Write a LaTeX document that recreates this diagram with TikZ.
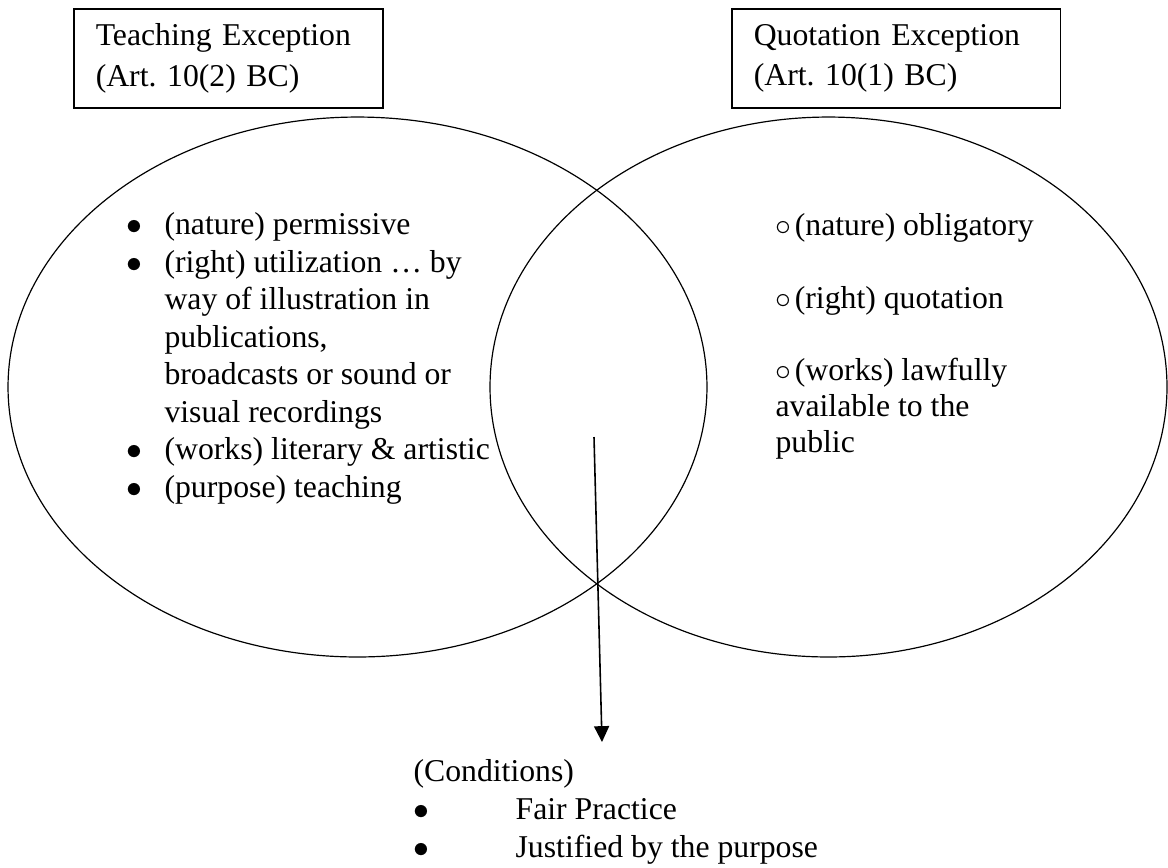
\documentclass[tikz,border=0pt]{standalone}
\usepackage{fontspec}
\setmainfont{Liberation Serif}
\usetikzlibrary{shapes.geometric, arrows.meta, positioning}

\begin{document}
\begin{tikzpicture}[x=0.378pt, y=-0.378pt,
    font=\fontsize{12pt}{14.2pt}\selectfont,
    titlebox/.style={draw, line width=0.6pt, anchor=north west, minimum height=37.4pt, inner xsep=8.3pt, inner ysep=0pt, align=left},
    setshape/.style={draw, ellipse, line width=0.45pt, minimum height=204.1pt, inner sep=0pt},
    itemtext/.style={anchor=base west, inner sep=0pt, align=left}]
    \useasboundingbox (0,0) rectangle (1168,867);

    % exception boxes
    \node[titlebox, text width=100.2pt, font=\fontsize{12pt}{14.4pt}\selectfont] (teach) at (73,8) {Teaching Exception\\[1pt](Art.\ 10(2) BC)};
    \node[titlebox, text width=107.7pt, font=\fontsize{12pt}{14.4pt}\selectfont] (quote) at (731,8) {Quotation Exception\\[1pt](Art.\ 10(1) BC)};

    % the two sets
    \node[setshape, minimum width=264.2pt] (teachset) at (357.5,387) {};
    \node[setshape, minimum width=255.9pt] (quoteset) at (828.5,387) {};

    % teaching exception items (placed by the last baseline)
    \node[itemtext] (teachlist) at (164,497.5) {\llap{$\bullet$\hspace{8.5pt}}(nature) permissive\\
        \llap{$\bullet$\hspace{8.5pt}}(right) utilization … by\\
        way of illustration in\\
        publications,\\
        broadcasts or sound or\\
        visual recordings\\
        \llap{$\bullet$\hspace{8.5pt}}(works) literary \& artistic\\
        \llap{$\bullet$\hspace{8.5pt}}(purpose) teaching};

    % quotation exception items
    \node[itemtext] (quotenature) at (775,235) {$\circ$\hspace{1.3pt}(nature) obligatory};
    \node[itemtext] (quoteright) at (775,308) {$\circ$\hspace{1.3pt}(right) quotation};
    \node[itemtext, font=\fontsize{12pt}{13.7pt}\selectfont] (quoteworks) at (775,452.6) {$\circ$\hspace{1.3pt}(works) lawfully\\available to the\\public};

    % common conditions
    \node[itemtext] (cond) at (413,857) {(Conditions)\\
        \makebox[38.6pt][l]{$\bullet$}Fair Practice\\
        \makebox[38.6pt][l]{$\bullet$}Justified by the purpose};

    \coordinate (overlap) at (594,437);
    \coordinate (condtip) at (602,742);
    \draw[line width=0.6pt, -{Triangle[length=6pt, width=5.7pt]}] (overlap) -- (condtip);
\end{tikzpicture}
\end{document}
